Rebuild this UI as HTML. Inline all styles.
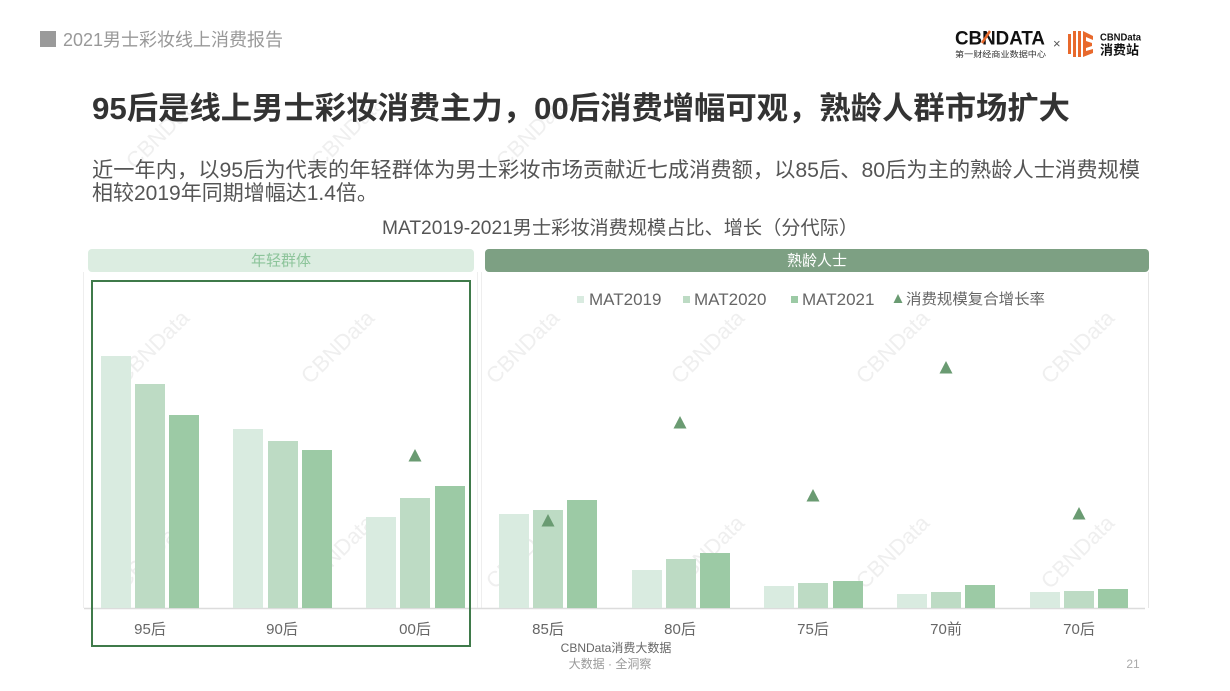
<!DOCTYPE html>
<html><head><meta charset="utf-8"><style>
html,body{margin:0;padding:0;background:#fff;}
svg{display:block;}
text{font-family:"Liberation Sans","Noto Sans CJK SC",sans-serif;}
</style></head><body>
<svg width="1230" height="691" viewBox="0 0 1230 691" xmlns="http://www.w3.org/2000/svg">
<rect width="1230" height="691" fill="#fff"/>
<!-- watermarks -->
<g fill="#efefef" font-size="22">
<text transform="translate(135,170) rotate(-45)">CBNData</text>
<text transform="translate(320,170) rotate(-45)">CBNData</text>
<text transform="translate(505,170) rotate(-45)">CBNData</text>
<text transform="translate(125,385) rotate(-45)">CBNData</text>
<text transform="translate(310,385) rotate(-45)">CBNData</text>
<text transform="translate(495,385) rotate(-45)">CBNData</text>
<text transform="translate(680,385) rotate(-45)">CBNData</text>
<text transform="translate(865,385) rotate(-45)">CBNData</text>
<text transform="translate(1050,385) rotate(-45)">CBNData</text>
<text transform="translate(125,590) rotate(-45)">CBNData</text>
<text transform="translate(310,590) rotate(-45)">CBNData</text>
<text transform="translate(495,590) rotate(-45)">CBNData</text>
<text transform="translate(680,590) rotate(-45)">CBNData</text>
<text transform="translate(865,590) rotate(-45)">CBNData</text>
<text transform="translate(1050,590) rotate(-45)">CBNData</text>
</g>
<!-- header -->
<rect x="40" y="31" width="16" height="16" fill="#9a9a9a"/>
<text x="63" y="46" font-size="18" fill="#999">2021男士彩妆线上消费报告</text>
<!-- logo -->
<text x="955" y="44.5" font-size="19" font-weight="bold" fill="#111" textLength="90" lengthAdjust="spacingAndGlyphs">CBNDATA</text>
<line x1="982" y1="43" x2="990" y2="31" stroke="#e8692c" stroke-width="2.5"/>
<text x="955" y="57" font-size="8" fill="#333" textLength="91" lengthAdjust="spacingAndGlyphs">第一财经商业数据中心</text>
<text x="1053" y="48" font-size="13" fill="#555">×</text>
<g fill="#e8692c">
<rect x="1068" y="34" width="3" height="20"/>
<rect x="1073" y="31" width="3" height="26"/>
<rect x="1078" y="31" width="3" height="26"/>
<path d="M1083 31 L1093 36 L1093 40 L1086 37 L1086 41 L1092 43 L1092 46 L1086 48 L1086 51 L1093 49 L1093 53 L1083 57 Z"/>
</g>
<text x="1100" y="40.5" font-size="10" font-weight="bold" fill="#111" textLength="41" lengthAdjust="spacingAndGlyphs">CBNData</text>
<text x="1100" y="54.5" font-size="13" font-weight="bold" fill="#111" textLength="39" lengthAdjust="spacingAndGlyphs">消费站</text>
<!-- title -->
<text x="92" y="119" font-size="31" font-weight="bold" fill="#333" textLength="978" lengthAdjust="spacingAndGlyphs">95后是线上男士彩妆消费主力，00后消费增幅可观，熟龄人群市场扩大</text>
<text x="92" y="177" font-size="21" fill="#555" textLength="1048" lengthAdjust="spacingAndGlyphs">近一年内，以95后为代表的年轻群体为男士彩妆市场贡献近七成消费额，以85后、80后为主的熟龄人士消费规模</text>
<text x="92" y="200" font-size="21" fill="#555">相较2019年同期增幅达1.4倍。</text>
<text x="620" y="234" font-size="19" fill="#555" text-anchor="middle" textLength="476" lengthAdjust="spacingAndGlyphs">MAT2019-2021男士彩妆消费规模占比、增长（分代际）</text>
<!-- pills -->
<rect x="88" y="249" width="386" height="23" rx="4" fill="#dcede1"/>
<text x="281" y="265.5" font-size="15" fill="#8cc49a" text-anchor="middle">年轻群体</text>
<rect x="485" y="249" width="664" height="23" rx="4" fill="#7da083"/>
<text x="817" y="265.5" font-size="15" fill="#fff" text-anchor="middle">熟龄人士</text>
<!-- panels -->
<line x1="83.5" y1="272" x2="83.5" y2="608" stroke="#eee"/>
<line x1="477.5" y1="272" x2="477.5" y2="608" stroke="#eee"/>
<line x1="481.5" y1="272" x2="481.5" y2="608" stroke="#eee"/>
<line x1="1148.5" y1="272" x2="1148.5" y2="608" stroke="#e6e6e6"/>
<!-- baseline -->
<line x1="84" y1="608.5" x2="1145" y2="608.5" stroke="#dcdcdc" stroke-width="1.5"/>
<!-- bars left -->
<g>
<rect x="101" y="356" width="30" height="252" fill="#d9ebe0"/>
<rect x="135" y="384" width="30" height="224" fill="#bddbc4"/>
<rect x="169" y="415" width="30" height="193" fill="#9ccaa5"/>
<rect x="233" y="429" width="30" height="179" fill="#d9ebe0"/>
<rect x="268" y="441" width="30" height="167" fill="#bddbc4"/>
<rect x="302" y="450" width="30" height="158" fill="#9ccaa5"/>
<rect x="366" y="517" width="30" height="91" fill="#d9ebe0"/>
<rect x="400" y="498" width="30" height="110" fill="#bddbc4"/>
<rect x="435" y="486" width="30" height="122" fill="#9ccaa5"/>
</g>
<!-- bars right -->
<g>
<rect x="499" y="514" width="30" height="94" fill="#d9ebe0"/>
<rect x="533" y="510" width="30" height="98" fill="#bddbc4"/>
<rect x="567" y="500" width="30" height="108" fill="#9ccaa5"/>
<rect x="632" y="570" width="30" height="38" fill="#d9ebe0"/>
<rect x="666" y="559" width="30" height="49" fill="#bddbc4"/>
<rect x="700" y="553" width="30" height="55" fill="#9ccaa5"/>
<rect x="764" y="586" width="30" height="22" fill="#d9ebe0"/>
<rect x="798" y="583" width="30" height="25" fill="#bddbc4"/>
<rect x="833" y="581" width="30" height="27" fill="#9ccaa5"/>
<rect x="897" y="594" width="30" height="14" fill="#d9ebe0"/>
<rect x="931" y="592" width="30" height="16" fill="#bddbc4"/>
<rect x="965" y="585" width="30" height="23" fill="#9ccaa5"/>
<rect x="1030" y="592" width="30" height="16" fill="#d9ebe0"/>
<rect x="1064" y="591" width="30" height="17" fill="#bddbc4"/>
<rect x="1098" y="589" width="30" height="19" fill="#9ccaa5"/>
</g>
<!-- triangles -->
<g fill="#6a9b72">
<path d="M415 449 L421.5 461.5 L408.5 461.5 Z"/>
<path d="M548 514 L554.5 526.5 L541.5 526.5 Z"/>
<path d="M680 416 L686.5 428.5 L673.5 428.5 Z"/>
<path d="M813 489 L819.5 501.5 L806.5 501.5 Z"/>
<path d="M946 361 L952.5 373.5 L939.5 373.5 Z"/>
<path d="M1079 507 L1085.5 519.5 L1072.5 519.5 Z"/>
</g>
<!-- highlight box -->
<rect x="92" y="281" width="378" height="365" fill="none" stroke="#3f7a4a" stroke-width="2"/>
<!-- legend -->
<rect x="577" y="296" width="7" height="7" fill="#d9ebe0"/>
<text x="589" y="305" font-size="17" fill="#666">MAT2019</text>
<rect x="683" y="296" width="7" height="7" fill="#bddbc4"/>
<text x="694" y="305" font-size="17" fill="#666">MAT2020</text>
<rect x="791" y="296" width="7" height="7" fill="#9ccaa5"/>
<text x="802" y="305" font-size="17" fill="#666">MAT2021</text>
<path d="M898 294 L902.5 303 L893.5 303 Z" fill="#6a9b72"/>
<text x="906" y="304" font-size="15" fill="#666" textLength="139" lengthAdjust="spacingAndGlyphs">消费规模复合增长率</text>
<!-- x labels -->
<g font-size="15" fill="#666" text-anchor="middle">
<text x="150" y="634">95后</text>
<text x="282" y="634">90后</text>
<text x="415" y="634">00后</text>
<text x="548" y="634">85后</text>
<text x="680" y="634">80后</text>
<text x="813" y="634">75后</text>
<text x="946" y="634">70前</text>
<text x="1079" y="634">70后</text>
</g>
<!-- footer -->
<text x="616" y="652" font-size="12" fill="#666" text-anchor="middle">CBNData消费大数据</text>
<text x="610" y="668" font-size="12" fill="#999" text-anchor="middle">大数据 · 全洞察</text>
<text x="1133" y="668" font-size="12" fill="#aaa" text-anchor="middle">21</text>
</svg>
</body></html>
